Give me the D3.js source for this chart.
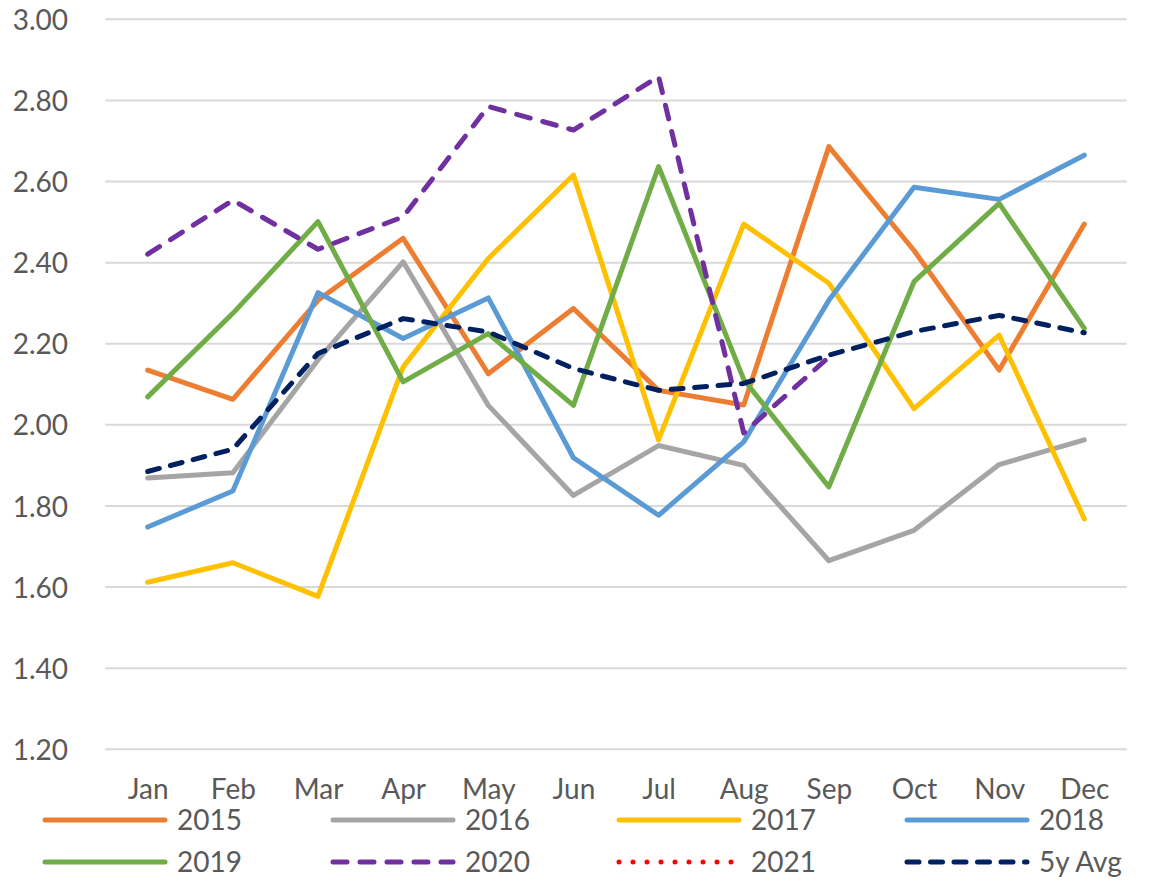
<!DOCTYPE html>
<html>
<head>
<meta charset="utf-8">
<script src="https://cdn.jsdelivr.net/npm/d3@7"></script>
<style>
  html, body { margin: 0; padding: 0; background: #fff; }
  svg { display: block; }
  text { font-family: Lato, "Noto Sans", sans-serif; fill: #595959; }
</style>
</head>
<body>
<svg id="chart" width="1150" height="884"></svg>
<script>
const months = ["Jan","Feb","Mar","Apr","May","Jun","Jul","Aug","Sep","Oct","Nov","Dec"];
const yTicks = [1.2, 1.4, 1.6, 1.8, 2.0, 2.2, 2.4, 2.6, 2.8, 3.0];

const s2015 = [2.135, 2.063, 2.307, 2.460, 2.126, 2.287, 2.085, 2.049, 2.686, 2.430, 2.135, 2.495];
const s2016 = [1.869, 1.882, 2.160, 2.402, 2.048, 1.826, 1.949, 1.900, 1.665, 1.740, 1.902, 1.963];
const s2017 = [1.612, 1.660, 1.577, 2.143, 2.410, 2.616, 1.963, 2.495, 2.349, 2.040, 2.221, 1.768];
const s2018 = [1.748, 1.837, 2.326, 2.213, 2.313, 1.919, 1.777, 1.958, 2.307, 2.586, 2.556, 2.665];
const s2019 = [2.069, 2.275, 2.501, 2.106, 2.225, 2.048, 2.637, 2.112, 1.847, 2.353, 2.546, 2.238];
const s2020 = [2.421, 2.554, 2.433, 2.513, 2.785, 2.727, 2.859, 1.980, 2.167, null, null, null];
const s2021 = [null, null, null, null, null, null, null, null, null, null, null, null];
const s5yAvg = [1.885, 1.940, 2.176, 2.262, 2.229, 2.139, 2.085, 2.102, 2.172, 2.230, 2.270, 2.227];

const seriesNames = ["2015","2016","2017","2018","2019","2020","2021","5y Avg"];
const seriesValues = [s2015, s2016, s2017, s2018, s2019, s2020, s2021, s5yAvg];
const seriesColors = ["#ED7D31","#A5A5A5","#FFC000","#5B9BD5","#70AD47","#7030A0","#FF0000","#002060"];
const seriesDash = [null, null, null, null, null, "14,13", "0,14", "12,11.5"];

const svg = d3.select("#chart");
const plotLeft = 105.3, plotRight = 1126.7;
const x = d3.scalePoint().domain(months).range([147.7, 1084.3]);
const y = d3.scaleLinear().domain([1.2, 3.0]).range([749.3, 19.3]);

// gridlines
svg.append("g").selectAll("line").data(yTicks).join("line")
  .attr("x1", plotLeft).attr("x2", plotRight)
  .attr("y1", d => y(d)).attr("y2", d => y(d))
  .attr("stroke", "#d9d9d9").attr("stroke-width", 2);

// y axis labels
const yAxis = d3.axisLeft(y).tickValues(yTicks).tickFormat(d3.format(".2f")).tickSize(0).tickPadding(0);
const gy = svg.append("g").attr("transform", "translate(68,0)").call(yAxis);
gy.select(".domain").remove();
gy.selectAll("text").attr("font-size", 28).attr("dy", "0.36em")
  .style("font-family", "Lato, 'Noto Sans', sans-serif").attr("fill", "#595959");

// x axis labels
const xAxis = d3.axisBottom(x).tickSize(0).tickPadding(0);
const gx = svg.append("g").attr("transform", "translate(0,778)").call(xAxis);
gx.select(".domain").remove();
gx.selectAll("text").attr("font-size", 28).attr("dy", "0.75em")
  .style("font-family", "Lato, 'Noto Sans', sans-serif").attr("fill", "#595959");

// lines
const line = d3.line()
  .defined(d => d.v != null)
  .x(d => x(d.m)).y(d => y(d.v));

seriesValues.forEach((vals, i) => {
  const data = vals.map((v, j) => ({ m: months[j], v: v }));
  const p = svg.append("path")
    .datum(data)
    .attr("d", line)
    .attr("fill", "none")
    .attr("stroke", seriesColors[i])
    .attr("stroke-width", 5)
    .attr("stroke-linejoin", "round")
    .attr("stroke-linecap", "round");
  if (seriesDash[i]) p.attr("stroke-dasharray", seriesDash[i]);
});

// legend
const colX = [45, 333, 619, 907];
const rowY = [820, 862];
const lg = svg.append("g");
seriesNames.forEach((name, i) => {
  const cx = colX[i % 4], cy = rowY[Math.floor(i / 4)];
  const l = lg.append("line")
    .attr("x1", cx).attr("x2", cx + 120)
    .attr("y1", cy).attr("y2", cy)
    .attr("stroke", seriesColors[i]).attr("stroke-width", 5)
    .attr("stroke-linecap", "round");
  if (seriesDash[i]) l.attr("stroke-dasharray", seriesDash[i]);
  lg.append("text")
    .attr("x", cx + 132).attr("y", cy + 10)
    .attr("font-size", 28)
    .text(name);
});
</script>
</body>
</html>
